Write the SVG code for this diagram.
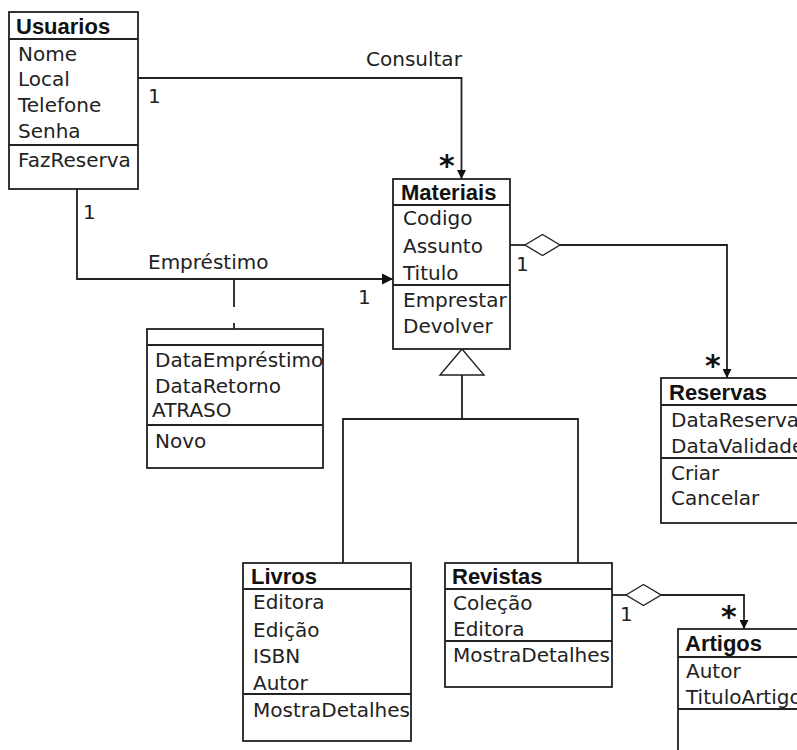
<svg xmlns="http://www.w3.org/2000/svg" width="797" height="750" viewBox="0 0 797 750">
<style>
.box{fill:#fff;stroke:#222;stroke-width:1.8}
.sep{stroke:#222;stroke-width:1.8}
.t{font-family:"DejaVu Sans",sans-serif;font-size:20px;fill:#222}
.h{font-family:"Liberation Sans",Arial,sans-serif;font-size:22px;font-weight:bold;fill:#111}
.ln{fill:none;stroke:#222;stroke-width:1.8}
.dia{fill:#fff;stroke:#222;stroke-width:1.4}
.star{font-family:"DejaVu Sans",sans-serif;font-size:30px;font-weight:bold;fill:#111}
</style>
<defs>
<marker id="arr" viewBox="0 0 10 10" refX="10" refY="5" markerWidth="10" markerHeight="9" markerUnits="userSpaceOnUse" orient="auto">
<path d="M0,0 L10,5 L0,10 z" fill="#111"/>
</marker>
<marker id="arrL" viewBox="0 0 10 10" refX="10" refY="5" markerWidth="11" markerHeight="12" markerUnits="userSpaceOnUse" orient="auto">
<path d="M0,0 L10,5 L0,10 z" fill="#111"/>
</marker>
</defs>
<rect x="0" y="0" width="797" height="750" fill="#fff"/>

<g id="connectors">
  <path class="ln" d="M138,78 H461.5 V179" marker-end="url(#arr)"/>
  <path class="ln" d="M77,189 V279 H393" marker-end="url(#arrL)"/>
  <path class="ln" d="M234,279 V307 M234,323 V329"/>
  <path class="ln" d="M510,245 H525"/>
  <polygon class="dia" points="525,245 542.5,234.5 560,245 542.5,255.5"/>
  <path class="ln" d="M560,245 H727 V378" marker-end="url(#arr)"/>
  <polygon class="dia" points="462,349 440,375 484,375"/>
  <path class="ln" d="M462,375 V419 M343,563 V419 H578 V563"/>
  <path class="ln" d="M612,595 H626"/>
  <polygon class="dia" points="626,595 643.5,584.5 661,595 643.5,605.5"/>
  <path class="ln" d="M661,595 H744 V629" marker-end="url(#arr)"/>
  <text class="t" x="366" y="66">Consultar</text>
  <text class="t" x="148" y="103">1</text>
  <text class="star" x="439" y="176">*</text>
  <text class="t" x="83" y="219">1</text>
  <text class="t" x="148" y="269">Empréstimo</text>
  <text class="t" x="358" y="304">1</text>
  <text class="t" x="516" y="271">1</text>
  <text class="star" x="705" y="376">*</text>
  <text class="t" x="620" y="621">1</text>
  <text class="star" x="721" y="627">*</text>
</g>

<g id="usuarios">
  <rect class="box" x="9" y="12" width="129" height="177"/>
  <line class="sep" x1="9" y1="39" x2="138" y2="39"/>
  <line class="sep" x1="9" y1="145" x2="138" y2="145"/>
  <text class="h" x="16" y="34">Usuarios</text>
  <text class="t" x="18" y="61">Nome</text>
  <text class="t" x="18" y="86">Local</text>
  <text class="t" x="18" y="112">Telefone</text>
  <text class="t" x="18" y="138">Senha</text>
  <text class="t" x="18" y="167">FazReserva</text>
</g>

<g id="materiais">
  <rect class="box" x="393" y="179" width="117" height="170"/>
  <line class="sep" x1="393" y1="205" x2="510" y2="205"/>
  <line class="sep" x1="393" y1="285" x2="510" y2="285"/>
  <text class="h" x="401" y="200">Materiais</text>
  <text class="t" x="403" y="225">Codigo</text>
  <text class="t" x="403" y="253">Assunto</text>
  <text class="t" x="403" y="280">Titulo</text>
  <text class="t" x="403" y="307">Emprestar</text>
  <text class="t" x="403" y="333">Devolver</text>
</g>

<g id="emprestimo">
  <rect class="box" x="147" y="329" width="176" height="139"/>
  <line class="sep" x1="147" y1="345" x2="323" y2="345"/>
  <line class="sep" x1="147" y1="425" x2="323" y2="425"/>
  <text class="t" x="155" y="367">DataEmpréstimo</text>
  <text class="t" x="155" y="393">DataRetorno</text>
  <text class="t" x="152" y="417">ATRASO</text>
  <text class="t" x="155" y="448">Novo</text>
</g>

<g id="reservas">
  <rect class="box" x="661" y="378" width="160" height="145"/>
  <line class="sep" x1="661" y1="405" x2="821" y2="405"/>
  <line class="sep" x1="661" y1="458" x2="821" y2="458"/>
  <text class="h" x="669" y="400">Reservas</text>
  <text class="t" x="671" y="427">DataReserva</text>
  <text class="t" x="671" y="453">DataValidade</text>
  <text class="t" x="671" y="480">Criar</text>
  <text class="t" x="671" y="505">Cancelar</text>
</g>

<g id="livros">
  <rect class="box" x="243" y="563" width="168" height="178"/>
  <line class="sep" x1="243" y1="589" x2="411" y2="589"/>
  <line class="sep" x1="243" y1="694" x2="411" y2="694"/>
  <text class="h" x="251" y="584">Livros</text>
  <text class="t" x="253" y="609">Editora</text>
  <text class="t" x="253" y="637">Edição</text>
  <text class="t" x="253" y="663">ISBN</text>
  <text class="t" x="253" y="690">Autor</text>
  <text class="t" x="253" y="717">MostraDetalhes</text>
</g>

<g id="revistas">
  <rect class="box" x="445" y="563" width="167" height="124"/>
  <line class="sep" x1="445" y1="589" x2="612" y2="589"/>
  <line class="sep" x1="445" y1="641" x2="612" y2="641"/>
  <text class="h" x="452" y="584">Revistas</text>
  <text class="t" x="453" y="610">Coleção</text>
  <text class="t" x="453" y="636">Editora</text>
  <text class="t" x="453" y="662">MostraDetalhes</text>
</g>

<g id="artigos">
  <rect class="box" x="678" y="629" width="140" height="140"/>
  <line class="sep" x1="678" y1="657" x2="818" y2="657"/>
  <line class="sep" x1="678" y1="709" x2="818" y2="709"/>
  <text class="h" x="685" y="651">Artigos</text>
  <text class="t" x="686" y="678">Autor</text>
  <text class="t" x="686" y="704">TituloArtigo</text>
</g>
</svg>
